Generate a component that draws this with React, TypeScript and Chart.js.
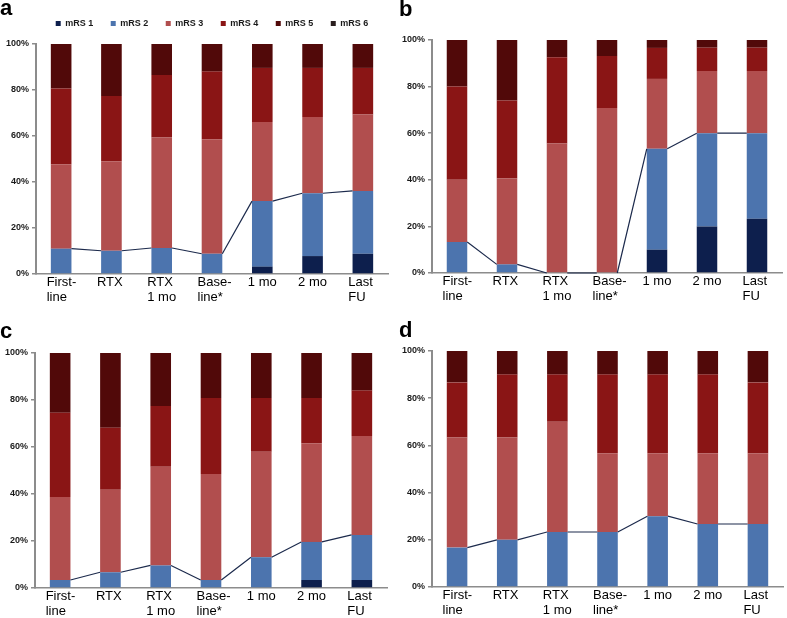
import React, { useEffect, useRef } from "react";
import { Chart, registerables } from "chart.js";

Chart.register(...registerables);

// ---------- data ----------
const categories: string[][] = [
  ["First-", "line"],
  ["RTX"],
  ["RTX", "1 mo"],
  ["Base-", "line*"],
  ["1 mo"],
  ["2 mo"],
  ["Last", "FU"],
];

const seriesNames = ["mRS 1", "mRS 2", "mRS 3", "mRS 4", "mRS 5", "mRS 6"];
const seriesColors = ["#0d1f4d", "#4c74ae", "#b14e4e", "#8a1515", "#510909", "#2a1e1e"];
const yTicks = [0, 20, 40, 60, 80, 100];

// each row: one series (mRS 1 .. mRS 6), percent per category
const panelA: number[][] = [
  [0, 0, 0, 0, 3.2, 7.8, 8.8],
  [11.0, 10.1, 11.3, 8.8, 28.5, 27.3, 27.3],
  [36.7, 38.9, 48.0, 49.8, 34.4, 33.2, 33.3],
  [32.9, 28.4, 27.2, 29.4, 23.5, 21.3, 20.2],
  [19.4, 22.6, 13.5, 12.0, 10.4, 10.4, 10.4],
  [0, 0, 0, 0, 0, 0, 0],
];

const panelB: number[][] = [
  [0, 0, 0, 0, 10.0, 20.0, 23.3],
  [13.3, 3.7, 0, 0, 43.3, 40.0, 36.7],
  [26.7, 37.0, 55.6, 70.8, 30.0, 26.7, 26.7],
  [40.0, 33.3, 37.0, 22.3, 13.3, 10.0, 10.0],
  [20.0, 26.0, 7.4, 6.9, 3.4, 3.3, 3.3],
  [0, 0, 0, 0, 0, 0, 0],
];

const panelC: number[][] = [
  [0, 0, 0, 0, 0, 3.4, 3.4],
  [3.4, 6.7, 9.6, 3.4, 13.1, 16.2, 19.2],
  [35.3, 35.1, 42.0, 45.1, 44.9, 42.0, 42.1],
  [35.9, 26.4, 25.8, 32.4, 22.9, 19.3, 19.3],
  [25.4, 31.8, 22.6, 19.1, 19.1, 19.1, 16.0],
  [0, 0, 0, 0, 0, 0, 0],
];

const panelD: number[][] = [
  [0, 0, 0, 0, 0, 0, 0],
  [16.7, 20.0, 23.3, 23.3, 30.0, 26.7, 26.7],
  [46.6, 43.3, 46.7, 33.4, 26.7, 30.0, 30.0],
  [23.4, 26.7, 20.0, 33.3, 33.3, 33.3, 30.0],
  [13.3, 10.0, 10.0, 10.0, 10.0, 10.0, 13.3],
  [0, 0, 0, 0, 0, 0, 0],
];

const panelLetters = ["a", "b", "c", "d"];

// ---------- styling / layout ----------
const FONT = '"Liberation Sans", Arial, Helvetica, sans-serif';
const AXIS_COLOR = "#8c8c8c";

type Spec = {
  values: number[][];
  left: number;
  top: number;
  w: number;
  h: number;
  yWidth: number;
  padRight: number;
  padTop: number;
  xHeight: number;
  legend: boolean;
  spacer: number;
};

const specs: Spec[] = [
  { values: panelA, left: 0, top: 0, w: 394, h: 309, yWidth: 36, padRight: 6, padTop: 1.5, xHeight: 35, legend: true, spacer: 5 },
  { values: panelB, left: 394, top: 0, w: 393, h: 309, yWidth: 38, padRight: 5, padTop: 40, xHeight: 36, legend: false, spacer: 0 },
  { values: panelC, left: 0, top: 322, w: 394, h: 296, yWidth: 35, padRight: 7, padTop: 31, xHeight: 30, legend: false, spacer: 0 },
  { values: panelD, left: 394, top: 322, w: 393, h: 296, yWidth: 38, padRight: 4, padTop: 29, xHeight: 31, legend: false, spacer: 0 },
];

const letterPos = [
  { left: 0, top: -2.6 },
  { left: 399, top: -1.6 },
  { left: 0, top: 320.4 },
  { left: 399, top: 319.4 },
];

// Excel-style series lines joining the tops of the mRS 2 segments
const seriesLinePlugin = {
  id: "seriesLines",
  afterDatasetsDraw(chart: any) {
    const meta = chart.getDatasetMeta(1);
    const els = meta.data as any[];
    const ctx = chart.ctx as CanvasRenderingContext2D;
    ctx.save();
    ctx.strokeStyle = "#1c2a4c";
    ctx.lineWidth = 1.2;
    ctx.beginPath();
    for (let i = 0; i < els.length - 1; i++) {
      const a = els[i];
      const b = els[i + 1];
      ctx.moveTo(a.x + a.width / 2, a.y);
      ctx.lineTo(b.x - b.width / 2, b.y);
    }
    ctx.stroke();
    ctx.restore();
  },
};

function Panel({ spec }: { spec: Spec }) {
  const ref = useRef<HTMLCanvasElement>(null);
  useEffect(() => {
    const chart = new Chart(ref.current as HTMLCanvasElement, {
      type: "bar",
      data: {
        labels: categories,
        datasets: spec.values.map((vals, i) => ({
          label: seriesNames[i],
          data: vals,
          backgroundColor: seriesColors[i],
          borderWidth: 0,
          barPercentage: 0.41,
          categoryPercentage: 1,
        })),
      },
      options: {
        responsive: false,
        animation: false,
        events: [],
        layout: {
          padding: { left: 0, right: spec.padRight, top: spec.padTop, bottom: 0 },
        },
        plugins: {
          legend: {
            display: spec.legend,
            position: "top",
            align: "center",
            fullSize: false,
            labels: {
              boxWidth: 5,
              boxHeight: 5,
              padding: 17.5,
              color: "#1a1a1a",
              font: { family: FONT, size: 9, weight: "bold" },
            },
          },
          subtitle: {
            display: spec.legend,
            text: "",
            weight: 500,
            padding: { top: spec.spacer, bottom: 0 },
            font: { size: 1, lineHeight: 1 },
          } as any,
          title: { display: false },
          tooltip: { enabled: false },
        },
        scales: {
          x: {
            stacked: true,
            offset: true,
            grid: { display: false, drawTicks: false },
            border: { display: true, color: AXIS_COLOR, width: 1.5 },
            ticks: {
              color: "#000",
              padding: 1,
              maxRotation: 0,
              autoSkip: false,
              align: "start",
              labelOffset: -14.5,
              font: { family: FONT, size: 13, lineHeight: 15 / 13 },
            },
            afterFit: (s: any) => {
              s.height = spec.xHeight;
            },
          },
          y: {
            stacked: true,
            min: 0,
            max: 100,
            grid: {
              display: true,
              drawOnChartArea: false,
              drawTicks: true,
              tickLength: 4,
              color: AXIS_COLOR,
              lineWidth: 1.5,
            },
            border: { display: true, color: AXIS_COLOR, width: 2 },
            ticks: {
              padding: 3,
              color: "#1a1a1a",
              font: { family: FONT, size: 9, weight: "bold" },
              callback: (v: any) => `${v}%`,
            },
            afterBuildTicks: (s: any) => {
              s.ticks = yTicks.map((v) => ({ value: v }));
            },
            afterFit: (s: any) => {
              s.width = spec.yWidth;
            },
          },
        },
      } as any,
      plugins: [seriesLinePlugin],
    });
    return () => chart.destroy();
  }, [spec]);
  return (
    <canvas
      ref={ref}
      width={spec.w}
      height={spec.h}
      style={{ position: "absolute", left: spec.left, top: spec.top, width: spec.w, height: spec.h, display: "block" }}
    />
  );
}

export default function App() {
  return (
    <div
      style={{
        position: "absolute",
        left: 0,
        top: 0,
        width: 787,
        height: 618,
        background: "#fff",
        overflow: "hidden",
      }}
    >
      {specs.map((s, i) => (
        <Panel key={i} spec={s} />
      ))}
      {panelLetters.map((l, i) => (
        <div
          key={l}
          style={{
            position: "absolute",
            left: letterPos[i].left,
            top: letterPos[i].top,
            fontFamily: FONT,
            fontWeight: "bold",
            fontSize: 22,
            lineHeight: "22px",
            color: "#000",
          }}
        >
          {l}
        </div>
      ))}
    </div>
  );
}
